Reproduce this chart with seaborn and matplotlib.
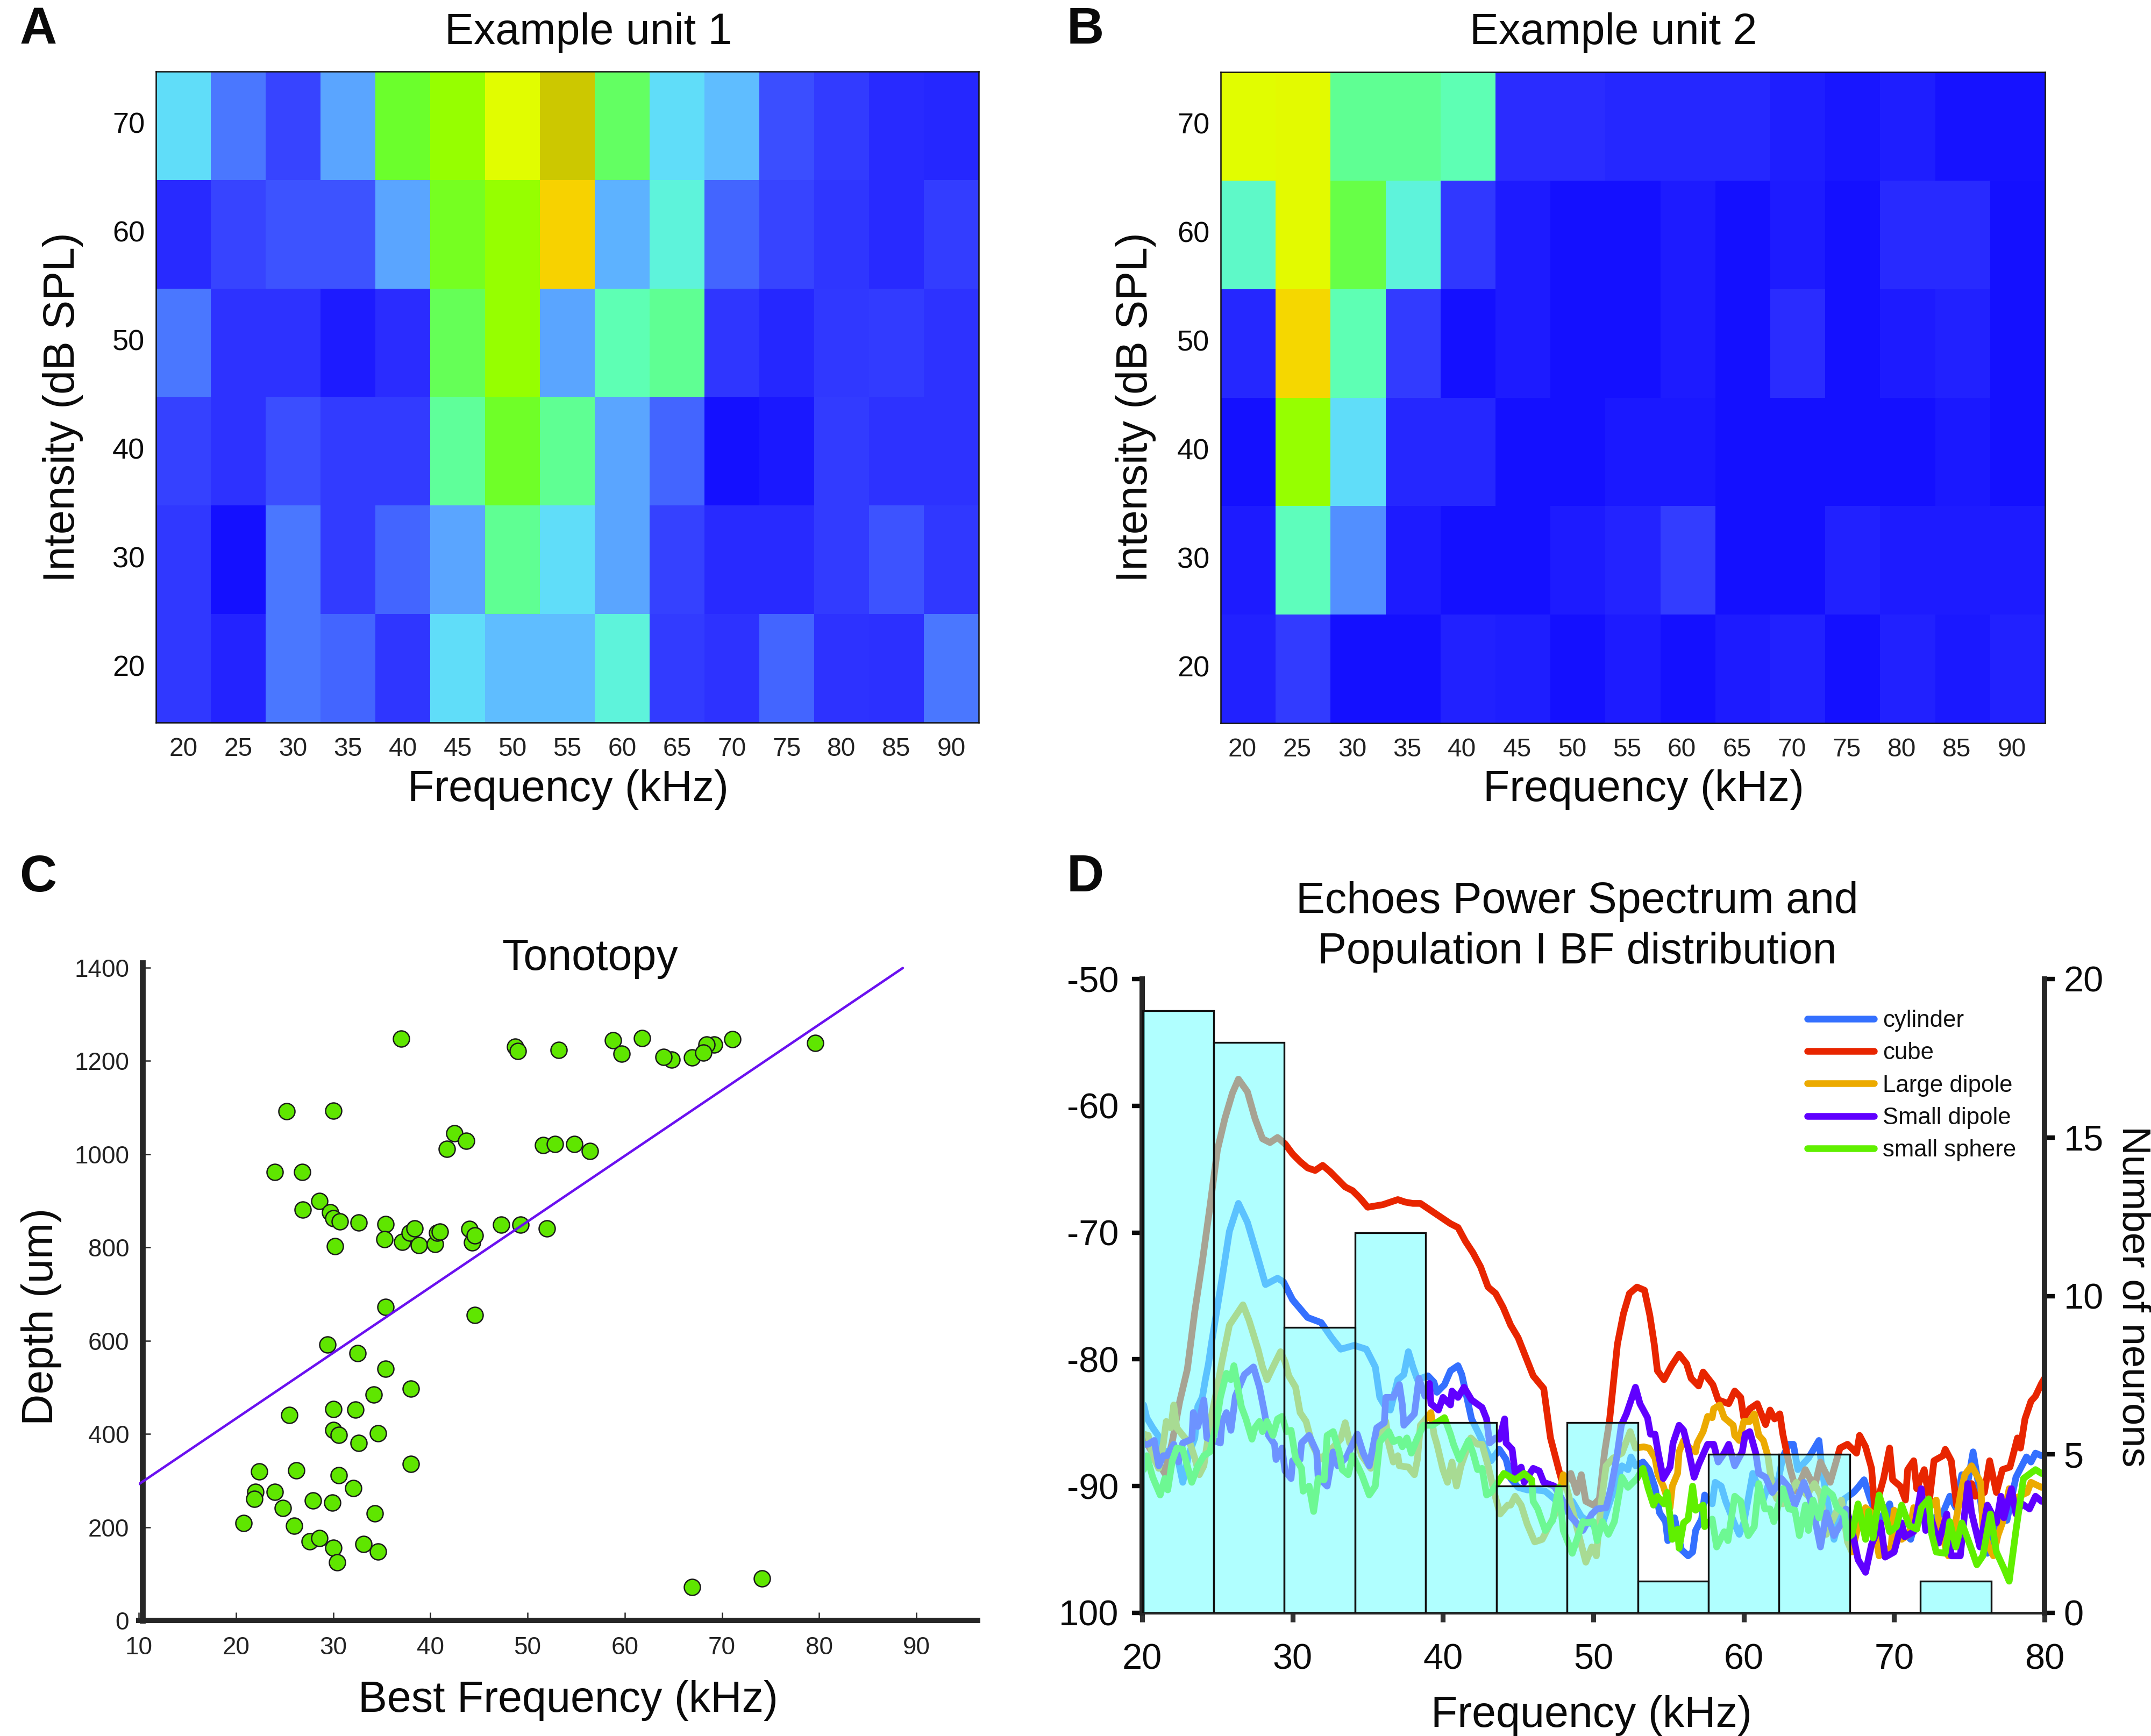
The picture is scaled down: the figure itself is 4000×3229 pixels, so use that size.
#!/usr/bin/env python3
"""Tuning curves, tonotopy and echo spectrum figure"""

import numpy as np
import matplotlib
matplotlib.use("Agg")
import matplotlib.pyplot as plt
from matplotlib.colors import LinearSegmentedColormap
from matplotlib.transforms import ScaledTranslation
import seaborn as sns

# heatmap axes
freq_labels = [20, 25, 30, 35, 40, 45, 50, 55, 60, 65, 70, 75, 80, 85, 90]
intensity_labels = [70, 60, 50, 40, 30, 20]

unit1 = [
    [.50, .30, .18, .38, .72, .80, .88, 1.0, .68, .50, .45, .21, .15, .09, .08],
    [.09, .18, .22, .22, .38, .74, .80, .94, .42, .56, .26, .18, .13, .09, .16],
    [.30, .12, .12, .04, .10, .69, .80, .38, .60, .64, .13, .08, .14, .15, .12],
    [.17, .12, .21, .15, .15, .63, .73, .64, .38, .26, .00, .03, .15, .12, .12],
    [.14, .00, .30, .15, .26, .38, .64, .50, .38, .17, .09, .09, .15, .22, .14],
    [.14, .07, .30, .26, .13, .50, .45, .45, .56, .15, .12, .26, .12, .11, .30],
]
unit2 = [
    [.88, .885, .64, .64, .60, .10, .10, .08, .08, .08, .05, .02, .05, .01, .01],
    [.58, .885, .70, .56, .14, .04, .00, .00, .04, .00, .04, .00, .09, .09, .00],
    [.08, .93, .60, .15, .00, .04, .00, .00, .04, .00, .10, .00, .04, .06, .00],
    [.00, .80, .50, .08, .08, .00, .00, .03, .03, .00, .00, .00, .00, .03, .00],
    [.04, .59, .34, .04, .00, .00, .04, .07, .16, .00, .00, .06, .04, .04, .04],
    [.06, .15, .00, .00, .06, .05, .00, .04, .00, .04, .06, .00, .06, .03, .06],
]

# tonotopy scatter
best_freq = [25.2, 30, 37, 48.7, 49, 24, 26.8, 42.5, 43.7, 41.7, 26.9, 28.6, 29.7, 30, 30.7, 32.6,
             35.4, 35.3, 37.1, 37.9, 38.4, 38.8, 40.5, 40.7, 41, 44, 44.3, 44.6, 30.2, 47.3, 49.3, 52,
             35.4, 44.6, 29.4, 32.5, 35.4, 34.2, 38, 30, 32.3, 25.5, 30, 30.6, 34.6, 32.6, 38, 22.4,
             26.2, 30.6, 32.1, 22, 21.9, 24, 27.9, 29.9, 24.8, 34.3, 20.8, 26, 27.6, 28.6, 30, 33.1,
             34.6, 30.4, 53.2, 58.8, 59.7, 61.8, 64.8, 64, 66.9, 69.2, 68.4, 68.1, 71.1, 79.6, 51.6,
             52.8, 54.8, 56.4, 66.9, 74.1]
depth = [1092, 1093, 1248, 1230, 1221, 961, 961, 1045, 1028, 1011, 881, 899, 875, 862, 855, 853,
         850, 817, 812, 831, 841, 805, 807, 831, 833, 839, 810, 826, 802, 848, 849, 841,
         672, 655, 591, 573, 539, 484, 497, 453, 452, 440, 408, 398, 401, 381, 335, 319,
         322, 311, 284, 276, 261, 275, 257, 253, 241, 230, 209, 203, 169, 176, 156, 164,
         147, 125, 1223, 1244, 1215, 1249, 1203, 1208, 1207, 1235, 1235, 1217, 1246, 1238, 1019,
         1022, 1021, 1007, 71, 90]
fit_x = [10, 88.6]
fit_y = [292, 1399]

# neuron counts per BF bin
bin_edges = [20.05, 24.75, 29.45, 34.15, 38.85, 43.55, 48.25, 52.95, 57.65, 62.35, 67.05, 71.75, 76.45]
bin_counts = [19, 18, 9, 12, 6, 4, 6, 1, 5, 5, 0, 1]

# echo power spectra (kHz, dB)
cube_x = [20, 20.5, 21, 21.5, 22, 22.5, 23, 23.5, 24, 24.5, 25, 25.5, 26, 26.4, 27, 27.5, 28, 28.5, 29, 29.5,
          30, 30.5, 31, 31.5, 32, 32.5, 33, 33.5, 34, 34.5, 35, 35.5, 36, 36.5, 37, 37.5, 38, 38.5, 39, 39.5,
          40, 40.5, 41, 41.5, 42, 42.5, 43, 43.5, 44, 44.5, 45, 45.5, 46, 46.7, 47.15, 47.7, 48, 48.5, 48.9,
          49.2, 49.5, 50, 50.4, 50.75, 51.07, 51.6, 52, 52.4, 52.9, 53.4, 53.75, 54.05, 54.26, 54.7, 55.2,
          55.7, 56.2, 56.5, 57, 57.3, 57.95, 58.3, 59, 59.4, 59.8, 60, 60.4, 60.9, 61.45, 61.75, 62.05, 62.4,
          62.6, 62.9, 63.1, 63.5, 64.1, 64.7, 65.1, 65.75, 66.4, 66.9, 67.5, 67.7, 68.1, 68.5, 68.7, 69, 69.3,
          69.7, 69.9, 70.4, 70.75, 70.9, 71.3, 71.5, 72, 72.35, 72.65, 73.25, 73.4, 73.8, 74.15, 74.6, 75.15,
          75.4, 76, 76.35, 76.8, 77.2, 77.7, 78.2, 78.4, 78.7, 79.1, 79.4, 79.8, 80]
cube_y = [-86, -87, -88, -89, -86.5, -83.3, -80.8, -76.2, -72.3, -68, -63.5, -61, -59, -57.9, -58.9, -61, -62.6, -62.9,
          -62.5, -63, -63.8, -64.4, -64.9, -65.1, -64.7, -65.2, -65.8, -66.4, -66.7, -67.3, -68, -67.9, -67.8, -67.6,
          -67.4, -67.6, -67.7, -67.7, -68.1, -68.5, -68.9, -69.3, -69.6, -70.7, -71.6, -72.7, -74.3, -74.8, -75.9, -77.3,
          -78.3, -79.8, -81.3, -82.3, -86.2, -88.7, -90, -89, -90.5, -89.1, -91.2, -91.5, -91, -87.3, -84.9, -78.8, -76.4,
          -74.8, -74.3, -74.55, -76.5, -78.8, -80.9, -81.6, -80.5, -79.6, -80.35, -81.5, -82.1, -81, -82, -83.2, -83.5,
          -82.5, -83, -84.6, -83.9, -83.5, -85.15, -84, -84.7, -84.3, -85.9, -87.6, -88.7, -90.4, -88.7, -90.1, -88.1,
          -89.7, -87, -86.7, -87.4, -86, -86.9, -88.6, -91.7, -90.7, -89.4, -87, -89.5, -90, -91.1, -88.7, -88, -90.2,
          -88.7, -91.1, -88, -87.6, -87.1, -88, -91.5, -91, -89.8, -90.8, -90.5, -88, -90.5, -88.7, -88.5, -86.2, -87,
          -84.7, -83.3, -82.9, -81.9, -81.5]

cylinder_x = [20.1, 20.3, 20.7, 21.05, 21.4, 22, 22.4, 22.7, 23.1, 23.5, 23.7, 24, 24.2, 24.4, 24.6, 24.9, 25.3, 25.8,
              26.4, 27, 27.6, 28.2, 29, 29.4, 30, 31, 31.9, 32.6, 33.2, 34.1, 34.9, 35.5, 35.8, 36.1, 36.5, 37, 37.4,
              37.7, 38, 38.3, 39, 39.4, 39.6, 40.1, 40.5, 41, 41.25, 41.55, 41.9, 42.4, 42.7, 43.2, 43.75, 44.2, 44.5,
              45, 45.6, 46.2, 46.8, 47.4, 48.1, 48.6, 49.2, 49.9, 50.6, 51.9, 52.3, 52.5, 52.8, 53.3, 53.7, 54.1, 54.4,
              54.8, 54.95, 55.4, 55.85, 56.3, 56.6, 56.8, 57.2, 57.4, 57.9, 58.1, 58.5, 58.8, 59.4, 59.7, 60, 60.3, 60.6,
              61.3, 61.8, 62.2, 62.6, 63, 63.3, 63.6, 64.3, 64.7, 65, 65.2, 66, 66.7, 67.3, 67.6, 68, 68.4, 69, 69.7,
              69.9, 71.1, 71.7, 72.4, 73.25, 73.7, 74.1, 74.5, 74.8, 75.25, 75.6, 76.2, 76.8, 77.5, 78.1, 78.8, 79.1,
              79.4, 79.8, 80]
cylinder_y = [-83.6, -84.6, -85.4, -86, -87.3, -87.2, -88, -89.7, -87.5, -86.2, -83.7, -83, -81.6, -80.4, -78.8, -76.6,
              -73.7, -69.9, -67.7, -69.2, -71.6, -74.1, -73.6, -73.9, -75.3, -76.7, -77.1, -78.3, -79.2, -78.9, -79.2,
              -80.6, -83, -83.6, -84, -81.6, -81.2, -79.4, -80.6, -81.6, -81.3, -81.8, -82.6, -82, -80.9, -80.5, -81.2,
              -82.8, -84.7, -85.9, -86.7, -88, -87.1, -87.9, -89.4, -90.1, -90.3, -90.3, -90.4, -91, -92, -91.2, -92.4,
              -93, -93, -88.4, -88.7, -87.7, -88.4, -88.1, -88.7, -90.1, -92.1, -92.8, -94.3, -92.5, -95, -95.5, -95.2,
              -93.5, -92.6, -90.7, -91.4, -89.7, -90, -91.2, -93, -93.8, -92.9, -91, -89, -91.1, -89.3, -90.1, -87.7,
              -86.7, -86.7, -88.7, -87.8, -87, -86.4, -88.7, -94.2, -91, -90.5, -90.1, -89.5, -91, -92.8, -91.4, -92.7,
              -94.2, -91.5, -92.7, -92.1, -90.8, -91.7, -89.1, -90.4, -87.3, -89.8, -95.3, -92.8, -92.7, -89.3, -87.7,
              -88.1, -87.4, -87.6, -87.5]

large_x = [20.1, 20.4, 20.7, 21.1, 21.4, 21.6, 21.9, 22.1, 22.3, 22.7, 23.2, 23.5, 23.8, 24.1, 24.6, 25, 25.3, 25.8,
           26.7, 27.1, 27.7, 28, 28.3, 28.7, 29.2, 29.5, 29.75, 30.2, 30.5, 30.9, 31.3, 31.8, 32.4, 33.2, 33.5, 33.8,
           34.2, 34.6, 35.2, 35.6, 36.2, 36.4, 36.7, 37, 37.1, 37.7, 38.1, 38.3, 38.5, 39, 39.2, 39.4, 39.6, 40, 40.3,
           40.6, 40.9, 41.2, 41.85, 42.3, 42.6, 43, 43.45, 43.8, 44.3, 44.5, 44.8, 45.2, 45.6, 46.1, 46.6, 47.5, 48,
           48.5, 49.5, 49.9, 50.2, 50.5, 50.85, 51.3, 51.9, 52.45, 52.8, 53.35, 53.7, 54.1, 54.3, 54.65, 55.1, 55.25,
           55.6, 55.7, 56, 56.3, 56.8, 56.9, 57.3, 57.6, 57.9, 58, 58.4, 58.7, 59.3, 59.4, 59.7, 60, 60.4, 60.7, 61,
           61.3, 61.6, 61.9, 62.2, 62.6, 63.5, 64.2, 64.7, 65.1, 65.5, 66.5, 66.9, 67.2, 67.6, 68.1, 68.5, 69, 69.8,
           70, 70.5, 71, 71.3, 72.05, 72.8, 73, 73.6, 74.1, 74.45, 74.7, 75.15, 75.75, 75.9, 76.3, 76.6, 76.9, 77.2,
           77.65, 78, 78.85, 79.1, 79.8, 80]
large_y = [-85.9, -86, -87.6, -88.6, -86.7, -84.9, -85.4, -83.6, -85.4, -86, -86.7, -87.8, -89.1, -88.4, -84.5, -82.2,
           -80.2, -77.3, -75.7, -76.9, -79.2, -80.6, -81.6, -80.6, -79.4, -80.2, -81.3, -82.2, -84.2, -84.9, -86.7, -87.9,
           -87.3, -86.3, -85, -86.6, -86.2, -87.6, -88.6, -86.4, -84.9, -86.7, -88.1, -87.6, -88.4, -88.5, -89.1, -87.9,
           -85.2, -84.5, -84.2, -85.9, -86.7, -88.7, -89.7, -88.1, -90, -88.4, -86.2, -86.7, -86.7, -88.4, -90.7, -92.2,
           -91.5, -91.5, -90.8, -91.5, -93, -94.4, -94.2, -92.1, -89.1, -91.4, -96, -94.8, -95.5, -91.5, -88.4, -87.8,
           -87.4, -85.7, -87, -86.9, -87, -87.8, -89.1, -90, -91.7, -90, -89, -87.3, -86.4, -86.9, -87.3, -86.6, -85.7,
           -84.5, -84.6, -83.9, -83.6, -84.6, -85.2, -86, -86.4, -84.9, -84.9, -84.3, -86, -86.4, -87.6, -90.1, -91,
           -91.4, -89.7, -90.7, -89.8, -90.7, -93.8, -91.1, -94.4, -95.2, -93.2, -91.7, -92.1, -95.5, -94.8, -91.9, -94.2,
           -93.8, -91.7, -92.1, -91.1, -93.2, -95.5, -92.8, -90.4, -89.1, -88.4, -89.7, -93.2, -94.8, -95.5, -93.9, -92.9,
           -90.2, -91, -90.5, -89.7, -90.1, -90]

small_x = [20.1, 20.4, 20.8, 21.1, 21.4, 21.65, 22.1, 22.4, 22.7, 23.3, 23.4, 23.7, 24.1, 24.3, 25.2, 25.3, 25.6, 25.9,
           26.2, 26.8, 27.4, 27.8, 28.1, 28.4, 28.8, 28.9, 29.3, 29.5, 29.9, 30, 30.5, 30.6, 31.1, 31.6, 31.7, 32.3,
           32.7, 33, 33.6, 33.9, 34.3, 34.7, 35.1, 35.6, 36.1, 36.2, 36.7, 37.1, 37.3, 37.4, 38.1, 38.4, 38.8, 39.1,
           39.2, 39.7, 40, 40.5, 40.6, 41, 41.4, 41.9, 42.6, 42.9, 43.1, 43.5, 43.75, 44.1, 44.2, 44.6, 44.8, 45.2,
           45.4, 46, 46.4, 46.7, 47.4, 48.1, 48.5, 48.8, 49.3, 49.9, 50.25, 50.85, 51.2, 51.56, 51.86, 52.2, 52.8, 53.1,
           53.6, 53.8, 54.1, 54.3, 54.65, 55.1, 55.3, 55.7, 56, 56.3, 56.7, 57, 57.6, 58, 58.3, 58.7, 59, 59.4, 59.9,
           60.1, 60.4, 60.8, 61, 61.45, 61.9, 62.5, 63, 63.4, 64, 64.4, 64.8, 65.1, 65.5, 66, 66.5, 66.8, 67.1, 67.6,
           68.1, 68.5, 69.1, 69.4, 70, 70.5, 70.7, 71.3, 71.8, 72.1, 72.5, 72.95, 73.5, 73.8, 74.4, 74.7, 74.9, 75.15,
           75.7, 76.2, 76.8, 77.1, 77.3, 77.8, 78.1, 78.5, 79, 79.4, 79.8, 80]
small_y = [-86.7, -86.7, -86.4, -88.4, -87.6, -87.6, -86.7, -88.1, -86.6, -86.3, -84.2, -85.3, -83.2, -86.2, -86.6, -85,
           -84.2, -85.6, -82.9, -81.2, -80.6, -82.2, -84, -86, -86.7, -87.9, -87, -88.8, -89.4, -88, -87.9, -86.6, -86,
           -87.3, -89.3, -90, -87.3, -88.4, -87.7, -86.9, -85.9, -87.4, -88.4, -85.4, -85, -83, -83, -82, -83.6, -85.2,
           -84.3, -81.5, -82.9, -81.9, -83.5, -84, -83, -83.6, -82.5, -83, -82.2, -83.2, -83.8, -84.7, -86.6, -86.2,
           -86.3, -84.7, -86.6, -87.1, -89, -88.5, -89.7, -88.6, -88.8, -89.7, -90, -91.4, -92.4, -92.8, -93.5, -92.2,
           -91.8, -91.7, -90, -87.7, -85.2, -84.3, -82.2, -83.5, -84.6, -85.9, -85.9, -87.3, -89.4, -88.5, -86.6, -85.2,
           -85.6, -87, -89.3, -88.3, -86.7, -86.7, -88.1, -87.4, -86.7, -88.4, -87.3, -85.9, -85.7, -87.4, -89, -89.3,
           -90.5, -89.4, -90.1, -91.5, -89.7, -91, -93, -94.8, -92.1, -93.9, -92.9, -91.8, -92.9, -95.8, -96.8, -94.6,
           -92.9, -95.6, -95.2, -92.9, -94, -93.6, -90.2, -93.5, -92.7, -94.5, -92.2, -95.5, -95.5, -92, -89.8, -92.1,
           -94.8, -91.5, -92.9, -90.8, -92.5, -90.2, -92.2, -91.4, -91.8, -90.8, -91.2, -91]

sphere_x = [20.1, 20.3, 20.7, 21.2, 21.5, 21.7, 22, 22.3, 22.7, 23, 23.3, 23.7, 24.1, 24.5, 24.9, 25.2, 25.6, 25.9,
            26.1, 26.4, 26.6, 26.9, 27.3, 27.5, 27.8, 28, 28.3, 28.7, 29, 29.3, 29.6, 29.9, 30.2, 30.6, 30.7, 31.1,
            31.4, 31.7, 32.1, 32.3, 32.7, 33.1, 33.3, 33.7, 34, 34.6, 35.1, 35.5, 35.8, 36.4, 36.7, 37.1, 37.3, 37.6,
            37.9, 38.3, 38.7, 39.3, 40.1, 40.5, 40.7, 41.1, 41.7, 42, 42.3, 42.6, 42.9, 43.2, 44.05, 44.8, 45.4, 45.9,
            46, 46.3, 46.8, 47.3, 47.7, 48, 48.6, 49.3, 49.5, 50, 50.25, 50.6, 51, 51.4, 51.9, 52.3, 52.9, 53.3, 53.65,
            54, 54.25, 54.7, 54.9, 55.1, 55.25, 55.6, 55.7, 56, 56.3, 56.6, 56.8, 57.3, 57.4, 57.9, 58.2, 58.7, 58.95,
            59.4, 59.8, 60, 60.3, 60.7, 61, 61.4, 61.75, 62, 62.6, 63, 63.4, 63.7, 64.1, 64.3, 64.6, 65, 65.4, 65.9,
            66.2, 66.7, 66.9, 67.2, 67.6, 68.1, 68.3, 68.6, 69, 69.4, 69.7, 70.15, 70.5, 71, 71.5, 71.8, 72.3, 72.5,
            72.8, 73.4, 73.7, 74.1, 74.5, 74.9, 75.15, 75.5, 75.9, 76.4, 76.8, 77.3, 77.65, 78.1, 78.6, 79.4, 79.8, 80]
sphere_y = [-88.7, -87.6, -89.3, -90.7, -89.4, -90.3, -88, -87, -87.1, -88.4, -89.7, -88.4, -87.6, -87.3, -85.3, -83,
            -81.1, -81.6, -80.5, -82.5, -83.75, -84.7, -86.3, -85.4, -84.9, -85.7, -84.9, -86, -84.7, -84.5, -85.7,
            -85.6, -87.8, -88.6, -90.4, -90, -92, -89.4, -89.5, -86, -85.7, -87.3, -88.7, -89.1, -87.6, -89.1, -90.7,
            -90, -86.5, -85.7, -86.5, -86.3, -86.9, -86.2, -87.4, -86.2, -85.2, -85.2, -84.6, -85.9, -86.7, -87.9, -86.4,
            -87.4, -88.7, -88.6, -90.7, -90.5, -89, -89.5, -89, -89.5, -91.2, -91.8, -93.5, -92.7, -90.1, -93.5, -95.3,
            -92.8, -92.9, -92.8, -94.3, -92.8, -93.8, -92.8, -89.3, -90.1, -89.4, -88.6, -90.2, -91.5, -90.8, -91.4,
            -90.5, -92.4, -94.2, -93.4, -94.9, -92.9, -92.6, -90, -91.9, -91.5, -93.2, -92.6, -94.8, -93.6, -94.3,
            -90.8, -91.2, -92.6, -93.9, -93.2, -89.8, -91.8, -91.8, -92.8, -90.2, -91.8, -91.9, -93.9, -91.5, -93.5,
            -91.1, -92.5, -90.2, -90.7, -91.7, -92.2, -94.1, -93.8, -91.4, -94.2, -92, -94.1, -90.7, -92.2, -93.6, -93.2,
            -91.5, -93.1, -93.4, -91.7, -91, -93.8, -95.2, -95.3, -92.8, -94.8, -92.9, -94.2, -95, -96.2, -95.5, -92.2,
            -95.2, -96.5, -97.5, -93.5, -89.4, -88.7, -89, -89]

series_names = ["cylinder", "cube", "Large dipole", "Small dipole", "small sphere"]
series_colors = ["#3470ff", "#e82500", "#ecaa00", "#6000ff", "#60f000"]

W, H = 4000, 3229

sns.set_theme(style="ticks")
plt.rcParams['font.family'] = ['Liberation Sans', 'DejaVu Sans']
plt.rcParams['axes.linewidth'] = 0.6

fig = plt.figure(figsize=(W / 300, H / 300), dpi=300)


def px_axes(left, top, right, bottom):
    """ピクセル座標から軸を作成"""
    return fig.add_axes([left / W, 1 - bottom / H, (right - left) / W, (bottom - top) / H])


def px_text(x, y, s, **kw):
    kw.setdefault("ha", "center")
    kw.setdefault("va", "center")
    kw.setdefault("color", "#0a0a0a")
    return fig.text(x / W, 1 - y / H, s, **kw)


# jet風カラーマップ
heat_cmap = LinearSegmentedColormap.from_list("washed_jet", [
    (0.00, "#1410ff"), (0.10, "#2a2dff"), (0.20, "#3a4aff"), (0.30, "#4a78ff"),
    (0.38, "#5aa5ff"), (0.45, "#5fbcff"), (0.50, "#60dcfa"), (0.56, "#5ef3dc"),
    (0.60, "#5effb4"), (0.66, "#5fff82"), (0.72, "#6aff2d"), (0.80, "#96ff00"),
    (0.88, "#e0ff00"), (0.94, "#f8d200"), (1.00, "#ccc800"),
])


def draw_heatmap(ax, grid):
    sns.heatmap(np.array(grid), cmap=heat_cmap, vmin=0, vmax=1, cbar=False, ax=ax,
                xticklabels=freq_labels, yticklabels=intensity_labels)
    for side in ax.spines.values():
        side.set_visible(True)
        side.set_linewidth(0.6)
        side.set_color("#111111")
    ax.tick_params(axis="x", direction="in", top=True, bottom=True, length=3, width=0.6,
                   labelsize=11.5, pad=6.5, labelrotation=0, labelcolor="#222222")
    ax.tick_params(axis="y", direction="in", left=True, right=True, length=3, width=0.6,
                   labelsize=13, pad=5, labelrotation=0, labelcolor="#0a0a0a")


ax_a = px_axes(290, 133, 1820, 1344)
draw_heatmap(ax_a, unit1)
ax_b = px_axes(2270, 134, 3803, 1345)
draw_heatmap(ax_b, unit2)
# Bの目盛りラベルは少し左にずれている
for lbl in ax_b.get_xticklabels():
    lbl.set_transform(lbl.get_transform() + ScaledTranslation(-11 / 300, 0, fig.dpi_scale_trans))

# C: tonotopy
ax_c = px_axes(258, 1791, 1818, 3014)
sns.scatterplot(x=best_freq, y=depth, ax=ax_c, s=52, color="#5fe600", edgecolor="#1a1a1a",
                linewidth=0.6, zorder=3, clip_on=False)
sns.lineplot(x=fit_x, y=fit_y, ax=ax_c, color="#6a10f0", linewidth=1.1, errorbar=None, zorder=4)
ax_c.set_xlim(10, 96.3)
ax_c.set_ylim(0, 1410)
ax_c.set_xticks(range(10, 100, 10))
ax_c.set_yticks(range(0, 1600, 200))
ax_c.spines["top"].set_visible(False)
ax_c.spines["right"].set_visible(False)
ax_c.spines["left"].set_position(("data", 10.39))
ax_c.spines["left"].set_linewidth(2.6)
ax_c.spines["bottom"].set_linewidth(2.4)
ax_c.tick_params(direction="in", length=3.5, width=0.6, labelsize=11, pad=7, labelcolor="#222222")
ax_c.tick_params(axis="y", pad=6)

# D: spectra with BF histogram on top
ax_d = px_axes(2124, 1821, 3802, 3000)
all_curves = [(cylinder_x, cylinder_y), (cube_x, cube_y), (large_x, large_y), (small_x, small_y), (sphere_x, sphere_y)]
for (cx, cy), name, col in zip(all_curves, series_names, series_colors):
    sns.lineplot(x=cx, y=cy, ax=ax_d, color=col, linewidth=3.0, label=name, sort=False,
                 estimator=None, errorbar=None, solid_joinstyle="round")
ax_d.set_xlim(20, 80)
ax_d.set_ylim(-100, -50)
ax_d.set_xticks(range(20, 90, 10))
ax_d.set_yticks(range(-100, -40, 10))
ax_d.set_yticklabels(["100", "-90", "-80", "-70", "-60", "-50"])
ax_d.spines["top"].set_visible(False)
ax_d.spines["right"].set_visible(False)
ax_d.spines["left"].set_linewidth(2.4)
ax_d.spines["bottom"].set_linewidth(1.2)
ax_d.tick_params(axis="x", length=4, width=2.2, color="#333333", labelsize=16, pad=9.5, labelcolor="#0a0a0a")
ax_d.tick_params(axis="y", length=4.5, width=2.0, color="#0a0a0a", labelsize=16, pad=6, labelcolor="#0a0a0a")
ax_d.set_xlabel("")
ax_d.set_ylabel("")
ax_d.legend(loc="upper left", bbox_to_anchor=(0.737, 0.9515), frameon=False, fontsize=10.5,
            handlelength=2.85, handletextpad=0.35, labelspacing=0.44, borderpad=0, borderaxespad=0,
            labelcolor="#111111")

bin_centers = [(a + b) / 2 for a, b in zip(bin_edges[:-1], bin_edges[1:])]
ax_n = ax_d.twinx()
sns.histplot(x=bin_centers, weights=bin_counts, bins=bin_edges, ax=ax_n, color=(120 / 255, 1, 1),
             alpha=0.58, edgecolor="#111111", linewidth=0.8)
ax_n.set_xlim(20, 80)
ax_n.set_ylim(0, 20)
ax_n.set_yticks(range(0, 25, 5))
ax_n.set_ylabel("")
ax_n.spines["top"].set_visible(False)
ax_n.spines["left"].set_visible(False)
ax_n.spines["bottom"].set_visible(False)
ax_n.spines["right"].set_linewidth(2.4)
ax_n.tick_params(axis="y", length=4.5, width=2.0, color="#0a0a0a", labelsize=16, pad=4, labelcolor="#0a0a0a")

# テキスト
label_size = 19.4
px_text(1094, 61, "Example unit 1", fontsize=label_size)
px_text(3000, 61, "Example unit 2", fontsize=label_size)
px_text(1097, 1783, "Tonotopy", fontsize=label_size)
px_text(2933, 1724, "Echoes Power Spectrum and\nPopulation I BF distribution", fontsize=label_size,
        linespacing=1.3)
px_text(1056, 1469, "Frequency (kHz)", fontsize=label_size)
px_text(3056, 1469, "Frequency (kHz)", fontsize=label_size)
px_text(1056, 3163, "Best Frequency (kHz)", fontsize=label_size)
px_text(2959, 3191, "Frequency (kHz)", fontsize=label_size)
px_text(117, 758, "Intensity (dB SPL)", fontsize=label_size, rotation=90)
px_text(2112, 758, "Intensity (dB SPL)", fontsize=label_size, rotation=90)
px_text(77, 2449, "Depth (um)", fontsize=label_size, rotation=90)
px_text(3967, 2411, "Number of neurons", fontsize=17.8, rotation=270)

for letter, lx, ly in [("A", 71, 56), ("B", 2018, 56), ("C", 71, 1633), ("D", 2018, 1633)]:
    px_text(lx, ly, letter, fontsize=23, fontweight="bold")

fig.savefig("out.png", dpi=300)
plt.close(fig)
